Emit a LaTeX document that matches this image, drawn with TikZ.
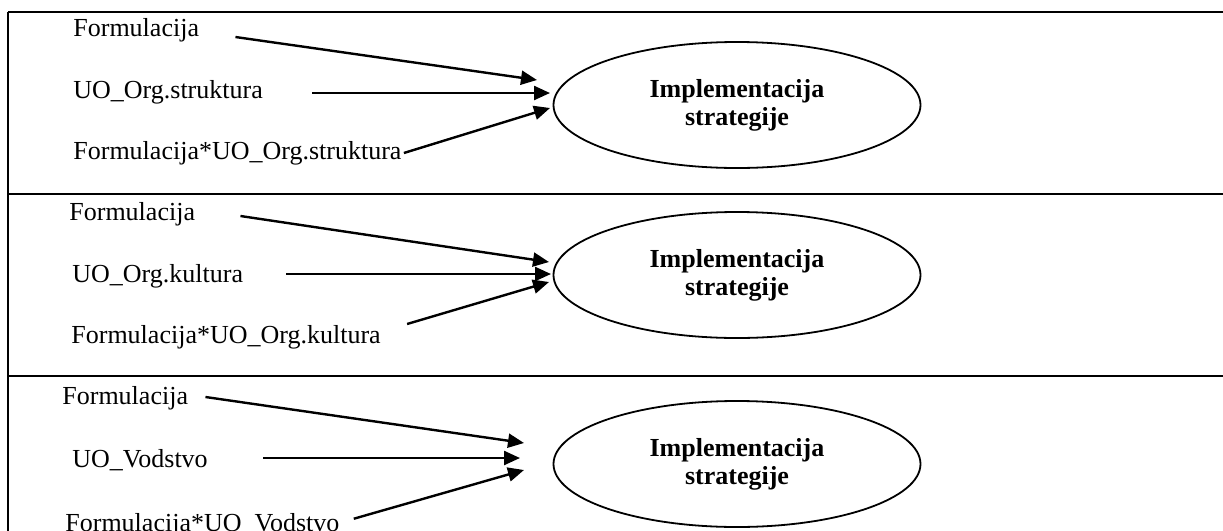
\documentclass[tikz,border=0pt]{standalone}
\usepackage{fontspec}
\setmainfont{Liberation Serif}
\usetikzlibrary{arrows.meta,shapes,calc,positioning}

\tikzset{
  lbl/.style={anchor=west, inner sep=0pt, font=\fontsize{13}{15}\selectfont},
  goal/.style={draw, ellipse, line width=0.9pt, inner sep=0pt, minimum width=183.5pt, minimum height=63pt, align=center, font=\fontsize{13}{14}\selectfont\bfseries},
  arr/.style={-{Triangle[length=8pt,width=7pt]}, line width=1.2pt},
  frame/.style={line width=1.3pt}
}

\begin{document}
\begin{tikzpicture}[x=0.5pt, y=-0.5pt]

	\useasboundingbox (0,0) rectangle (1223,531);

	% okvir
	\draw[frame] (8,12) -- (1223,12);
	\draw[frame] (8,194) -- (1223,194);
	\draw[frame] (8,376) -- (1223,376);
	\draw[frame] (8,12) -- (8,531);

	% prvi model
	\node[lbl] (f1) at (73,30) {Formulacija};
	\node[lbl] (u1) at (73,92) {UO\_Org.struktura};
	\node[lbl] (fu1) at (73,153) {Formulacija*UO\_Org.struktura};
	\node[goal] (is1) at (737,105) {Implementacija\\strategije};
	\coordinate (t1a) at (537,80);
	\coordinate (t1b) at (550,93);
	\coordinate (t1c) at (550,108);
	\draw[arr] ($(f1.east)+(36,7)$) -- (t1a);
	\draw[arr] ($(u1.east)+(49,1)$) -- (t1b);
	\draw[arr] ($(fu1.east)+(2,0)$) -- (t1c);

	% drugi model
	\node[lbl] (f2) at (69,214) {Formulacija};
	\node[lbl] (u2) at (72,276) {UO\_Org.kultura};
	\node[lbl] (fu2) at (71,337) {Formulacija*UO\_Org.kultura};
	\node[goal] (is2) at (737,275) {Implementacija\\strategije};
	\coordinate (t2a) at (549,262);
	\coordinate (t2b) at (551,274);
	\coordinate (t2c) at (549,282);
	\draw[arr] ($(f2.east)+(45,2)$) -- (t2a);
	\draw[arr] ($(u2.east)+(43,-2)$) -- (t2b);
	\draw[arr] ($(fu2.east)+(26,-13)$) -- (t2c);

	% treci model
	\node[lbl] (f3) at (62,398) {Formulacija};
	\node[lbl] (u3) at (72,460) {UO\_Vodstvo};
	\node[lbl, anchor=base west] (fu3) at (65,531) {Formulacija*UO\_Vodstvo};
	\node[goal] (is3) at (737,464) {Implementacija\\strategije};
	\coordinate (t3a) at (524,443);
	\coordinate (t3b) at (520,458);
	\coordinate (t3c) at (524,470);
	\draw[arr] ($(f3.east)+(17,-1)$) -- (t3a);
	\draw[arr] ($(u3.east)+(55,-2)$) -- (t3b);
	\draw[arr] ($(fu3.east)+(14,-6)$) -- (t3c);

\end{tikzpicture}
\end{document}
